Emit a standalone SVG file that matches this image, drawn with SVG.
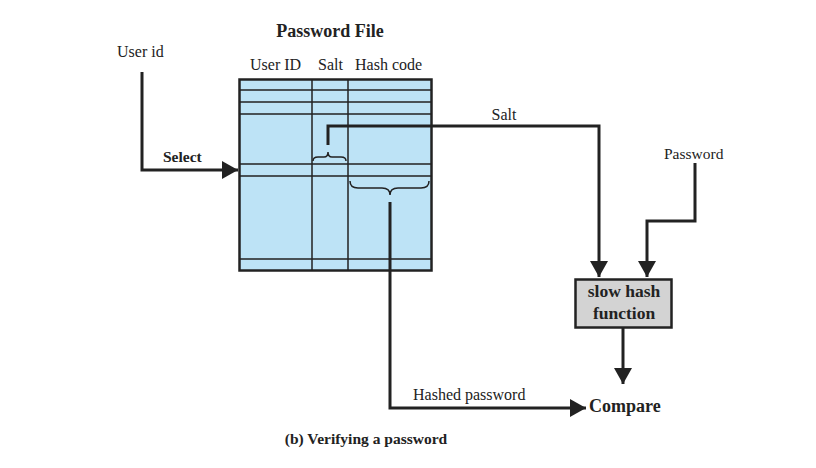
<svg xmlns="http://www.w3.org/2000/svg" width="816" height="468" viewBox="0 0 816 468">
<defs>
<style>
.t{font-family:"Liberation Serif","Times New Roman",serif;fill:#222}
.b{font-weight:bold}
.c{fill:none;stroke:#222;stroke-width:3}
.g{stroke:#222;stroke-width:1.5;fill:none}
</style>
<marker id="ah" markerUnits="userSpaceOnUse" markerWidth="16" markerHeight="18" refX="16" refY="9" orient="auto">
<path d="M0,0 L16,9 L0,18 z" fill="#222"/>
</marker>
</defs>
<rect width="816" height="468" fill="#fff"/>
<g id="passwordFile">
<text class="t b" x="330" y="37" font-size="18" text-anchor="middle">Password File</text>
<text class="t" x="250" y="70" font-size="16">User ID</text>
<text class="t" x="318" y="70" font-size="16">Salt</text>
<text class="t" x="355" y="70" font-size="16">Hash code</text>
<rect x="239.5" y="79.5" width="192" height="191" fill="#bde3f6" stroke="#222" stroke-width="2.5"/>
<path class="g" d="M312,79 V271 M348,79 V271 M239,90 H432 M239,102 H432 M239,114 H432 M239,164 H432 M239,176 H432 M239,259 H432"/>
<path class="g" stroke-width="1.3" d="M313,161 Q313,157 318,157 L324,157 Q328,157 328,152 Q328,157 332,157 L341,157 Q346,157 346,161"/>
<path class="g" stroke-width="1.3" d="M350,181 Q350,188 358,188 L382,188 Q390,188 390,195 Q390,188 398,188 L421,188 Q429,188 429,181"/>
</g>
<g id="userid">
<text class="t" x="117" y="57" font-size="16">User id</text>
<text class="t b" x="163" y="162" font-size="15.5">Select</text>
</g>
<g id="slowhash">
<rect x="575.5" y="279.5" width="96" height="48" fill="#d3d3d3" stroke="#222" stroke-width="2.5"/>
<text class="t b" x="624" y="297" font-size="17.5" text-anchor="middle">slow hash</text>
<text class="t b" x="624" y="319" font-size="17.5" text-anchor="middle">function</text>
</g>
<g id="password">
<text class="t" x="664" y="159" font-size="15.5">Password</text>
</g>
<g id="compare">
<text class="t b" x="589" y="412" font-size="18">Compare</text>
</g>
<g id="caption">
<text class="t b" x="366" y="444" font-size="15.5" text-anchor="middle">(b) Verifying a password</text>
</g>
<g id="connectors">
<path class="c" marker-end="url(#ah)" d="M142,72 V170 H238"/>
<path class="c" marker-end="url(#ah)" d="M328,145 V126 H599 V277"/>
<text class="t" x="504" y="120" font-size="16" text-anchor="middle">Salt</text>
<path class="c" marker-end="url(#ah)" d="M695,163 V221 H647 V277"/>
<path class="c" marker-end="url(#ah)" d="M623,328 V384"/>
<path class="c" marker-end="url(#ah)" d="M390,202 V408 H586"/>
<text class="t" x="413" y="400" font-size="16">Hashed password</text>
</g>
</svg>
